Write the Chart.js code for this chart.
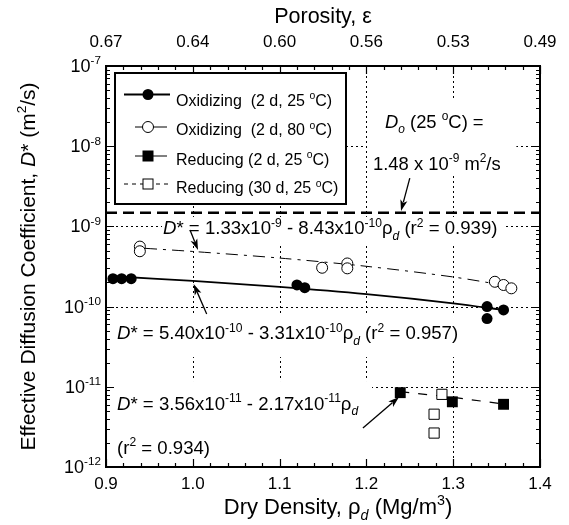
<!DOCTYPE html>
<html><head><meta charset="utf-8">
<script src="https://cdn.jsdelivr.net/npm/chart.js@4/dist/chart.umd.min.js"></script>
<style>html,body{margin:0;padding:0;background:#fff}canvas{display:block}</style>
</head><body>
<canvas id="c" width="569" height="525" style="width:569px;height:525px"></canvas>
<script>
const FONT = '"Liberation Sans", Arial, Helvetica, sans-serif';

// ---------- data ----------
const rhoOx25 = [0.908, 0.918, 0.929, 1.120, 1.129, 1.339, 1.339, 1.358];
const dOx25   = [2.23e-10, 2.23e-10, 2.23e-10, 1.86e-10, 1.72e-10, 1.00e-10, 7.1e-11, 9.1e-11];
const rhoOx80 = [0.939, 0.939, 1.149, 1.178, 1.178, 1.348, 1.358, 1.367];
const dOx80   = [5.6e-10, 4.9e-10, 3.05e-10, 3.45e-10, 3.0e-10, 2.04e-10, 1.86e-10, 1.69e-10];
const rhoRed2 = [1.239, 1.299, 1.358];
const dRed2   = [8.45e-12, 6.5e-12, 6.05e-12];
const rhoRed30 = [1.287, 1.278, 1.278];
const dRed30   = [8.05e-12, 4.55e-12, 2.65e-12];

// fitted lines as drawn in the reference
const rhoFitOx25 = [0.908, 1.0, 1.1, 1.2, 1.3, 1.36];
const dFitOx25   = [2.39e-10, 2.09e-10, 1.76e-10, 1.43e-10, 1.10e-10, 0.90e-10];
const rhoFitOx80 = [0.945, 1.0, 1.1, 1.2, 1.3, 1.367];
const dFitOx80   = [5.33e-10, 4.87e-10, 4.03e-10, 3.18e-10, 2.34e-10, 1.78e-10];
const rhoFitRed2 = [1.239, 1.30, 1.358];
const dFitRed2   = [8.69e-12, 7.39e-12, 6.09e-12];
const rhoD0 = [0.9, 1.4];
const dD0   = [1.48e-9, 1.48e-9];

const xTickValues = [0.9, 1.0, 1.1, 1.2, 1.3, 1.4];
const xTickLabels = ['0.9', '1.0', '1.1', '1.2', '1.3', '1.4'];
const porosityLabels = ['0.67', '0.64', '0.60', '0.56', '0.53', '0.49'];
const yTickExponents = [-12, -11, -10, -9, -8, -7];

const legendLabels = ['Oxidizing  (2 d, 25 ', 'Oxidizing  (2 d, 80 ', 'Reducing (2 d, 25 ', 'Reducing (30 d, 25 '];

function pts(xs, ys) { return xs.map((x, i) => ({x: x, y: ys[i]})); }

// ---------- rich text ----------
function drawRich(ctx, segs, x, y, size, align) {
  let w = 0;
  const parts = segs.map(([t, k]) => {
    const small = (k === 'sup' || k === 'sub' || k === 'isub');
    const sz = small ? size * 0.65 : size;
    const it = (k === 'i' || k === 'isub');
    const font = (it ? 'italic ' : '') + sz + 'px ' + FONT;
    ctx.font = font;
    const m = ctx.measureText(t).width;
    w += m;
    const dy = k === 'sup' ? -size * 0.42 : (small ? size * 0.28 : 0);
    return {t, font, m, dy};
  });
  let cx = align === 'center' ? x - w / 2 : align === 'right' ? x - w : x;
  ctx.textAlign = 'left';
  ctx.textBaseline = 'alphabetic';
  for (const p of parts) { ctx.font = p.font; ctx.fillText(p.t, cx, y + p.dy); cx += p.m; }
  return w;
}

// annotations: positions in data units (rho, D)
const boxes = [
  [0.9645, 1.3574, 1.31e-9, 6.04e-10],
  [0.9069, 1.310, 8.32e-11, 2.35e-11],
  [0.9046, 1.2065, 1.18e-11, 1.03e-12],
  [1.2007, 1.3728, 3.77e-8, 4.38e-9]
];
const EQ = 18.6;
const notes = [
  {at: [0.9657, 7.93e-10], size: EQ, segs: [['D','i'],['* = 1.33x10','n'],['-9','sup'],[' - 8.43x10','n'],['-10','sup'],['\u03C1','n'],['d','isub'],[' (r','n'],['2','sup'],[' = 0.939)','n']]},
  {at: [0.9127, 3.89e-11], size: EQ, segs: [['D','i'],['* = 5.40x10','n'],['-10','sup'],[' - 3.31x10','n'],['-10','sup'],['\u03C1','n'],['d','isub'],[' (r','n'],['2','sup'],[' = 0.957)','n']]},
  {at: [0.9127, 5.21e-12], size: EQ, segs: [['D','i'],['* = 3.56x10','n'],['-11','sup'],[' - 2.17x10','n'],['-11','sup'],['\u03C1','n'],['d','isub']]},
  {at: [0.9127, 1.45e-12], size: EQ, segs: [['(r','n'],['2','sup'],[' = 0.934)','n']]},
  {at: [1.2214, 1.69e-8], size: 18.4, segs: [['D','i'],['o','isub'],[' (25 ','n'],['o','sup'],['C) =','n']]},
  {at: [1.2076, 5.04e-9], size: 18.4, segs: [['1.48 x 10','n'],['-9','sup'],[' m','n'],['2','sup'],['/s','n']]}
];
const arrows = [
  [1.250, 4.0e-9, 1.2399, 1.56e-9],
  [0.9968, 9.0e-10, 1.006, 5.08e-10],
  [1.016, 8.09e-11, 1.001, 1.91e-10],
  [1.196, 3.06e-12, 1.2376, 7.46e-12]
];

function drawArrow(ctx, x1, y1, x2, y2) {
  const a = Math.atan2(y2 - y1, x2 - x1), L = 11, H = 3.6;
  ctx.beginPath(); ctx.moveTo(x1, y1); ctx.lineTo(x2 - Math.cos(a) * L * 0.8, y2 - Math.sin(a) * L * 0.8); ctx.stroke();
  ctx.beginPath();
  ctx.moveTo(x2, y2);
  ctx.lineTo(x2 - Math.cos(a) * L - Math.sin(a) * H, y2 - Math.sin(a) * L + Math.cos(a) * H);
  ctx.lineTo(x2 - Math.cos(a) * L * 0.75, y2 - Math.sin(a) * L * 0.75);
  ctx.lineTo(x2 - Math.cos(a) * L + Math.sin(a) * H, y2 - Math.sin(a) * L - Math.cos(a) * H);
  ctx.closePath(); ctx.fill();
}

const decor = {
  id: 'decor',
  beforeDatasetsDraw(chart) {
    const {ctx, chartArea: ca, scales: {x, y}} = chart;
    ctx.save();
    // dotted major grid
    ctx.strokeStyle = '#000'; ctx.lineWidth = 1; ctx.setLineDash([2, 3]);
    ctx.beginPath();
    xTickValues.slice(1, -1).forEach(v => {
      const px = Math.round(x.getPixelForValue(v)) + 0.5;
      ctx.moveTo(px, ca.top); ctx.lineTo(px, ca.bottom);
    });
    yTickExponents.slice(1, -1).forEach(e => {
      const py = Math.round(y.getPixelForValue(Math.pow(10, e))) + 0.5;
      ctx.moveTo(ca.left, py); ctx.lineTo(ca.right, py);
    });
    ctx.stroke();
    ctx.setLineDash([]);
    // white label boxes
    ctx.fillStyle = '#fff';
    for (const b of boxes) {
      const x0 = x.getPixelForValue(b[0]), x1 = x.getPixelForValue(b[1]);
      const y0 = y.getPixelForValue(b[2]), y1 = y.getPixelForValue(b[3]);
      ctx.fillRect(x0, y0, x1 - x0, y1 - y0);
    }
    ctx.fillStyle = '#000';
    for (const n of notes) drawRich(ctx, n.segs, x.getPixelForValue(n.at[0]), y.getPixelForValue(n.at[1]), n.size, 'left');
    ctx.restore();
  },
  afterDatasetsDraw(chart) {
    const {ctx, scales: {x, y}} = chart;
    ctx.save();
    ctx.strokeStyle = '#000'; ctx.fillStyle = '#000'; ctx.lineWidth = 1.3;
    for (const a of arrows) drawArrow(ctx, x.getPixelForValue(a[0]), y.getPixelForValue(a[1]), x.getPixelForValue(a[2]), y.getPixelForValue(a[3]));
    ctx.restore();
  },
  afterDraw(chart) {
    const {ctx, chartArea: ca, scales: {x, y}} = chart;
    ctx.save();
    ctx.strokeStyle = '#000'; ctx.fillStyle = '#000';
    // ticks
    ctx.lineWidth = 1.2;
    ctx.beginPath();
    for (let i = 0; i <= 25; i++) {
      const v = 0.9 + i * 0.02, px = Math.round(x.getPixelForValue(v)) + 0.5;
      const len = i % 5 === 0 ? 8 : 4;
      ctx.moveTo(px, ca.bottom); ctx.lineTo(px, ca.bottom - len);
      ctx.moveTo(px, ca.top); ctx.lineTo(px, ca.top + len);
    }
    for (let e = -12; e <= -8; e++) {
      for (let m = 1; m <= 9; m++) {
        const py = Math.round(y.getPixelForValue(m * Math.pow(10, e))) + 0.5;
        const len = m === 1 ? 8 : 4;
        ctx.moveTo(ca.left, py); ctx.lineTo(ca.left + len, py);
        ctx.moveTo(ca.right, py); ctx.lineTo(ca.right - len, py);
      }
    }
    ctx.stroke();
    // frame
    ctx.lineWidth = 2;
    ctx.strokeRect(ca.left, ca.top, ca.right - ca.left, ca.bottom - ca.top);

    // tick labels
    ctx.font = '17px ' + FONT; ctx.textAlign = 'center'; ctx.textBaseline = 'alphabetic';
    xTickValues.forEach((v, i) => {
      const px = x.getPixelForValue(v);
      ctx.fillText(xTickLabels[i], px, ca.bottom + 22);
      ctx.fillText(porosityLabels[i], px, ca.top - 19);
    });
    yTickExponents.forEach(e => {
      const py = y.getPixelForValue(Math.pow(10, e));
      drawRich(ctx, [['10', 'n'], [String(e), 'sup']], ca.left - 5, py + 6, 18, 'right');
    });
    // titles
    drawRich(ctx, [['Porosity, \u03B5', 'n']], (ca.left + ca.right) / 2, 23, 21.5, 'center');
    drawRich(ctx, [['Dry Density, ', 'n'], ['\u03C1', 'n'], ['d', 'isub'], [' (Mg/m', 'n'], ['3', 'sup'], [')', 'n']], (ca.left + ca.right) / 2 + 15, 514, 22, 'center');
    ctx.save();
    ctx.translate(35, (ca.top + ca.bottom) / 2);
    ctx.rotate(-Math.PI / 2);
    drawRich(ctx, [['Effective Diffusion Coefficient, ', 'n'], ['D', 'i'], ['* (m', 'n'], ['2', 'sup'], ['/s)', 'n']], 0, 0, 21, 'center');
    ctx.restore();

    // legend
    const L = ca.left, T = ca.top;
    const bx = L + 9, by = T + 7, bw = 231, bh = 131;
    ctx.fillStyle = '#fff'; ctx.fillRect(bx, by, bw, bh);
    ctx.lineWidth = 2; ctx.strokeStyle = '#000'; ctx.strokeRect(bx, by, bw, bh);
    ctx.fillStyle = '#000';
    const mx = L + 42;
    const rowsM = [T + 28.5, T + 61, T + 90, T + 118];
    const rowsT = [T + 39.8, T + 69.3, T + 98.8, T + 127.3];
    ctx.lineWidth = 2; ctx.beginPath(); ctx.moveTo(L + 18, rowsM[0]); ctx.lineTo(L + 64, rowsM[0]); ctx.stroke();
    ctx.lineWidth = 1;
    ctx.beginPath(); ctx.moveTo(L + 29, rowsM[1]); ctx.lineTo(L + 61, rowsM[1]); ctx.stroke();
    ctx.beginPath(); ctx.moveTo(L + 29, rowsM[2]); ctx.lineTo(L + 61, rowsM[2]); ctx.stroke();
    ctx.setLineDash([4, 4]);
    ctx.beginPath(); ctx.moveTo(L + 18, rowsM[3]); ctx.lineTo(L + 64, rowsM[3]); ctx.stroke();
    ctx.setLineDash([]);
    ctx.beginPath(); ctx.arc(mx, rowsM[0], 5.5, 0, Math.PI * 2); ctx.fill();
    ctx.fillStyle = '#fff'; ctx.beginPath(); ctx.arc(mx, rowsM[1], 5.5, 0, Math.PI * 2); ctx.fill(); ctx.stroke();
    ctx.fillStyle = '#000'; ctx.fillRect(mx - 5.5, rowsM[2] - 5.5, 11, 11);
    ctx.fillStyle = '#fff'; ctx.fillRect(mx - 5, rowsM[3] - 5, 10, 10); ctx.strokeRect(mx - 5, rowsM[3] - 5, 10, 10);
    ctx.fillStyle = '#000';
    legendLabels.forEach((t, i) => {
      drawRich(ctx, [[t, 'n'], ['o', 'sup'], ['C)', 'n']], L + 70, rowsT[i], 16, 'left');
    });
    ctx.restore();
  }
};

const chart = new Chart(document.getElementById('c'), {
  type: 'scatter',
  data: {
    datasets: [
      {label: 'Reducing (2 d, 25 °C)', data: pts(rhoRed2, dRed2), pointStyle: 'rect', pointRadius: 7.7, backgroundColor: '#000', borderColor: '#000', borderWidth: 0},
      {label: 'Reducing (30 d, 25 °C)', data: pts(rhoRed30, dRed30), pointStyle: 'rect', pointRadius: 7.2, backgroundColor: '#fff', borderColor: '#000', borderWidth: 1},
      {label: 'Oxidizing (2 d, 25 °C)', data: pts(rhoOx25, dOx25), pointStyle: 'circle', pointRadius: 5.5, backgroundColor: '#000', borderColor: '#000', borderWidth: 0},
      {label: 'Oxidizing (2 d, 80 °C)', data: pts(rhoOx80, dOx80), pointStyle: 'circle', pointRadius: 5.5, backgroundColor: '#fff', borderColor: '#000', borderWidth: 1},
      {label: 'fit ox25', data: pts(rhoFitOx25, dFitOx25), showLine: true, pointRadius: 0, borderColor: '#000', borderWidth: 1.8, tension: 0.3},
      {label: 'fit ox80', data: pts(rhoFitOx80, dFitOx80), showLine: true, pointRadius: 0, borderColor: '#000', borderWidth: 1, borderDash: [12, 6, 3, 6], tension: 0.3},
      {label: 'fit red2', data: pts(rhoFitRed2, dFitRed2), showLine: true, pointRadius: 0, borderColor: '#000', borderWidth: 1.2, borderDash: [9, 9]},
      {label: 'Do', data: pts(rhoD0, dD0), showLine: true, pointRadius: 0, borderColor: '#000', borderWidth: 2.5, borderDash: [11, 6]}
    ]
  },
  options: {
    responsive: false,
    animation: false,
    events: [],
    layout: {padding: {left: 106, right: 29, top: 66, bottom: 58}},
    plugins: {legend: {display: false}, tooltip: {enabled: false}},
    scales: {
      x: {
        type: 'linear', min: 0.9, max: 1.4, position: 'bottom',
        ticks: {display: false, stepSize: 0.1},
        grid: {display: false, drawTicks: false},
        border: {display: false}
      },
      y: {
        type: 'logarithmic', min: 1e-12, max: 1e-7,
        ticks: {display: false},
        grid: {display: false, drawTicks: false},
        border: {display: false}
      }
    }
  },
  plugins: [decor]
});
</script>
</body></html>
